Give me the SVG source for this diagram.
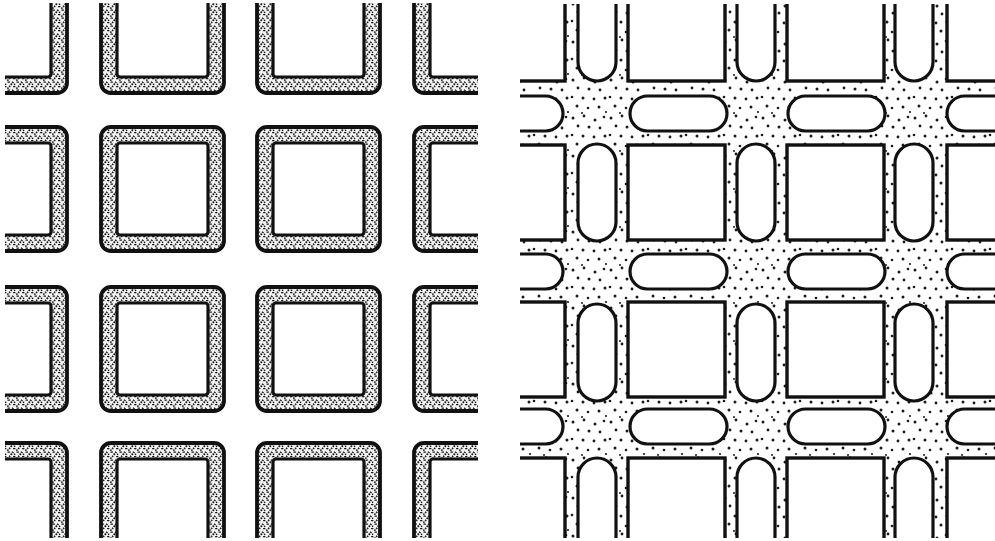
<svg xmlns="http://www.w3.org/2000/svg" xmlns:xlink="http://www.w3.org/1999/xlink" width="995" height="541" viewBox="0 0 995 541">
<style>
.ln{stroke:#111;fill:#fff;stroke-width:3.2}
.sq{stroke:#111;fill:#fff;stroke-width:3.4}
</style>
<defs>
<pattern id="grain" width="9" height="8" patternUnits="userSpaceOnUse">
<rect width="9" height="8" fill="#f2f2f2"/>
<path d="M0.5 1.2h2.4M5 0.8l1.6 1.3M2 4.8l1.3 1.2M6.1 5.6h2.3" stroke="#151515" stroke-width="1.3" fill="none"/>
<circle cx="4.3" cy="3.2" r="1" fill="#151515"/>
<circle cx="0.9" cy="7.1" r="0.9" fill="#151515"/>
<circle cx="7.6" cy="3.4" r="0.8" fill="#151515"/>
</pattern>
<pattern id="dots" width="38" height="38" patternUnits="userSpaceOnUse">
<rect width="38" height="38" fill="#fff"/>
<g fill="#1a1a1a">
<circle cx="3" cy="4" r="1.5"/><circle cx="14" cy="2" r="1.4"/><circle cx="25" cy="6" r="1.5"/><circle cx="34" cy="3" r="1.3"/>
<circle cx="8" cy="12" r="1.4"/><circle cx="19" cy="13" r="1.5"/><circle cx="30" cy="14" r="1.4"/>
<circle cx="2" cy="21" r="1.3"/><circle cx="13" cy="22" r="1.5"/><circle cx="24" cy="23" r="1.4"/><circle cx="35" cy="22" r="1.5"/>
<circle cx="7" cy="30" r="1.5"/><circle cx="18" cy="32" r="1.3"/><circle cx="29" cy="31" r="1.5"/>
<circle cx="12" cy="37" r="1"/><circle cx="36" cy="36" r="1.1"/>
</g>
</pattern>
<g id="ring">
<rect x="0" y="0" width="123" height="124" rx="10" fill="url(#grain)" stroke="#111" stroke-width="3.8"/>
<rect x="16" y="16" width="91" height="92" rx="3" fill="#fff" stroke="#111" stroke-width="3.2"/>
</g>
<rect id="block" width="97" height="95" class="sq"/>
<rect id="vs" width="38" height="97" rx="19" class="ln"/>
<rect id="hs" width="97" height="35" rx="17.5" class="ln"/>
<clipPath id="clipL"><rect x="5" y="3" width="473" height="535"/></clipPath>
<clipPath id="clipR"><rect x="520" y="4" width="475" height="534"/></clipPath>
</defs>
<rect width="995" height="541" fill="#fff"/>
<g id="left-panel" clip-path="url(#clipL)">
<use xlink:href="#ring" x="-56" y="-31"/><use xlink:href="#ring" x="101" y="-31"/><use xlink:href="#ring" x="257" y="-31"/><use xlink:href="#ring" x="414" y="-31"/>
<use xlink:href="#ring" x="-56" y="127"/><use xlink:href="#ring" x="101" y="127"/><use xlink:href="#ring" x="257" y="127"/><use xlink:href="#ring" x="414" y="127"/>
<use xlink:href="#ring" x="-56" y="287"/><use xlink:href="#ring" x="101" y="287"/><use xlink:href="#ring" x="257" y="287"/><use xlink:href="#ring" x="414" y="287"/>
<use xlink:href="#ring" x="-56" y="443"/><use xlink:href="#ring" x="101" y="443"/><use xlink:href="#ring" x="257" y="443"/><use xlink:href="#ring" x="414" y="443"/>
</g>
<g id="right-panel" clip-path="url(#clipR)">
<rect x="520" y="0" width="475" height="541" fill="url(#dots)"/>
<g id="blocks">
<use xlink:href="#block" x="468" y="-14"/><use xlink:href="#block" x="628" y="-14"/><use xlink:href="#block" x="787" y="-14"/><use xlink:href="#block" x="947" y="-14"/>
<use xlink:href="#block" x="468" y="145"/><use xlink:href="#block" x="628" y="145"/><use xlink:href="#block" x="787" y="145"/><use xlink:href="#block" x="947" y="145"/>
<use xlink:href="#block" x="468" y="302"/><use xlink:href="#block" x="628" y="302"/><use xlink:href="#block" x="787" y="302"/><use xlink:href="#block" x="947" y="302"/>
<use xlink:href="#block" x="468" y="458"/><use xlink:href="#block" x="628" y="458"/><use xlink:href="#block" x="787" y="458"/><use xlink:href="#block" x="947" y="458"/>
</g>
<g id="vertical-courts">
<use xlink:href="#vs" x="578" y="-16"/><use xlink:href="#vs" x="737" y="-16"/><use xlink:href="#vs" x="895" y="-16"/>
<use xlink:href="#vs" x="578" y="144"/><use xlink:href="#vs" x="737" y="144"/><use xlink:href="#vs" x="895" y="144"/>
<use xlink:href="#vs" x="578" y="304"/><use xlink:href="#vs" x="737" y="304"/><use xlink:href="#vs" x="895" y="304"/>
<use xlink:href="#vs" x="578" y="458"/><use xlink:href="#vs" x="737" y="458"/><use xlink:href="#vs" x="895" y="458"/>
</g>
<g id="horizontal-courts">
<use xlink:href="#hs" x="466" y="96"/><use xlink:href="#hs" x="630" y="96"/><use xlink:href="#hs" x="788" y="96"/><use xlink:href="#hs" x="947" y="96"/>
<use xlink:href="#hs" x="466" y="254"/><use xlink:href="#hs" x="630" y="254"/><use xlink:href="#hs" x="788" y="254"/><use xlink:href="#hs" x="947" y="254"/>
<use xlink:href="#hs" x="466" y="409"/><use xlink:href="#hs" x="630" y="409"/><use xlink:href="#hs" x="788" y="409"/><use xlink:href="#hs" x="947" y="409"/>
</g>
</g>
</svg>
